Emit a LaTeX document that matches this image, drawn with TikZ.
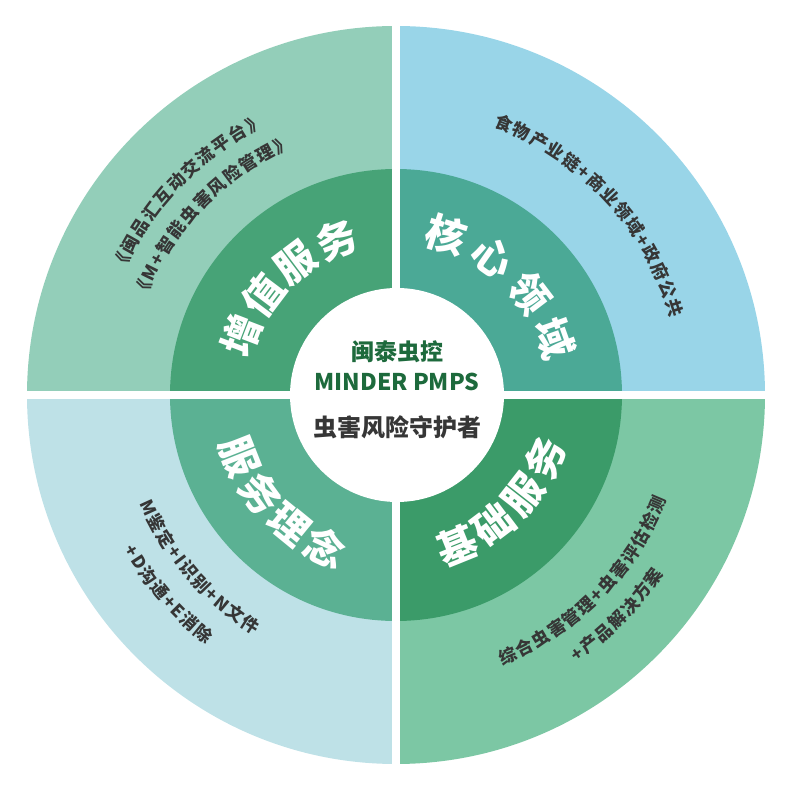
\documentclass[tikz,border=0pt]{standalone}
\usepackage{fontspec}
\usetikzlibrary{decorations.text}
\newfontfamily\cjk{Noto Sans CJK SC}
\definecolor{ValueOuter}{HTML}{93CEB9}
\definecolor{ValueInner}{HTML}{47A377}
\definecolor{CoreOuter}{HTML}{99D5E8}
\definecolor{CoreInner}{HTML}{4BA996}
\definecolor{IdeaOuter}{HTML}{BEE1E7}
\definecolor{IdeaInner}{HTML}{5BB193}
\definecolor{BaseOuter}{HTML}{7CC7A4}
\definecolor{BaseInner}{HTML}{3B9B69}
\definecolor{BrandGreen}{HTML}{1D6A3C}
\definecolor{InkGray}{HTML}{363636}
\newcommand\outerfont{\cjk\bfseries\fontsize{17.5}{17.5}\selectfont\color{InkGray}\kern1.6pt}
% text along an arc: radius, start angle, end angle, text
\newcommand\arctext[4]{%
  \path[decorate, decoration={text along path, text align=center,
        text={|\outerfont|#4}}]
    (#2:#1) arc[start angle=#2, end angle=#3, radius=#1];}

\begin{document}
\begin{tikzpicture}[
  x=1pt, y=1pt,
  ring/.style   = {font=\cjk\bfseries\fontsize{40}{40}\selectfont, text=white, inner sep=0pt},
  brand/.style  = {font=\cjk\bfseries\fontsize{23}{23}\selectfont, text=BrandGreen, inner sep=0pt},
  slogan/.style = {font=\cjk\bfseries\fontsize{24}{24}\selectfont, text=InkGray, inner sep=0pt}
]
\useasboundingbox (-396,-396) rectangle (395,395);

%% ---- four quadrants, outer band and inner band ------------------------
\foreach \a/\outer/\inner in {90/ValueOuter/ValueInner, 0/CoreOuter/CoreInner,
                               180/IdeaOuter/IdeaInner, 270/BaseOuter/BaseInner} {
  \fill[\outer] (0,0) -- (\a:369) arc[start angle=\a, end angle=\a+90, radius=369] -- cycle;
  \fill[\inner] (0,0) -- (\a:226) arc[start angle=\a, end angle=\a+90, radius=226] -- cycle;
}

%% ---- white cross and hub ----------------------------------------------
\fill[white] (-4,-372) rectangle (4,372);
\fill[white] (-372,-4) rectangle (372,4);
\fill[white] (1,0) circle[radius=107];

\node[brand]  (brandcn) at (1,43)  {闽泰虫控};
\node[brand]  (branden) at (1,13)  {MINDER PMPS};
\node[slogan] (slogan)  at (1,-32) {虫害风险守护者};

%% ---- inner band labels, one glyph at a time ---------------------------
\foreach \ch [count=\i, evaluate=\i as \a using 159-16*(\i-1)] in {增,值,服,务}
  \node[ring, rotate=\a-90] (value\i) at (\a:166) {\ch};
\foreach \ch [count=\i, evaluate=\i as \a using 72.5-17.6*(\i-1)] in {核,心,领,域}
  \node[ring, rotate=\a-90] (core\i) at (\a:168) {\ch};
\foreach \ch [count=\i, evaluate=\i as \a using 201.5+14.6*(\i-1)] in {服,务,理,念}
  \node[ring, rotate=\a+90] (idea\i) at (\a:168) {\ch};
\foreach \ch [count=\i, evaluate=\i as \a using 292+15*(\i-1)] in {基,础,服,务}
  \node[ring, rotate=\a+90] (base\i) at (\a:162) {\ch};

%% ---- outer band texts --------------------------------------------------
\arctext{299}{181}{91}{《闽品汇互动交流平台》}
\arctext{268}{181}{91}{《M+智能虫害风险管理》}
\arctext{285}{88}{-2}{食物产业链+商业领域+政府公共}
\arctext{278}{176}{266}{M鉴定+I识别+N文件}
\arctext{313}{176}{266}{+D沟通+E消除}
\arctext{290}{270}{360}{综合虫害管理+虫害评估检测}
\arctext{322}{270}{360}{+产品解决方案}

\end{tikzpicture}
\end{document}
